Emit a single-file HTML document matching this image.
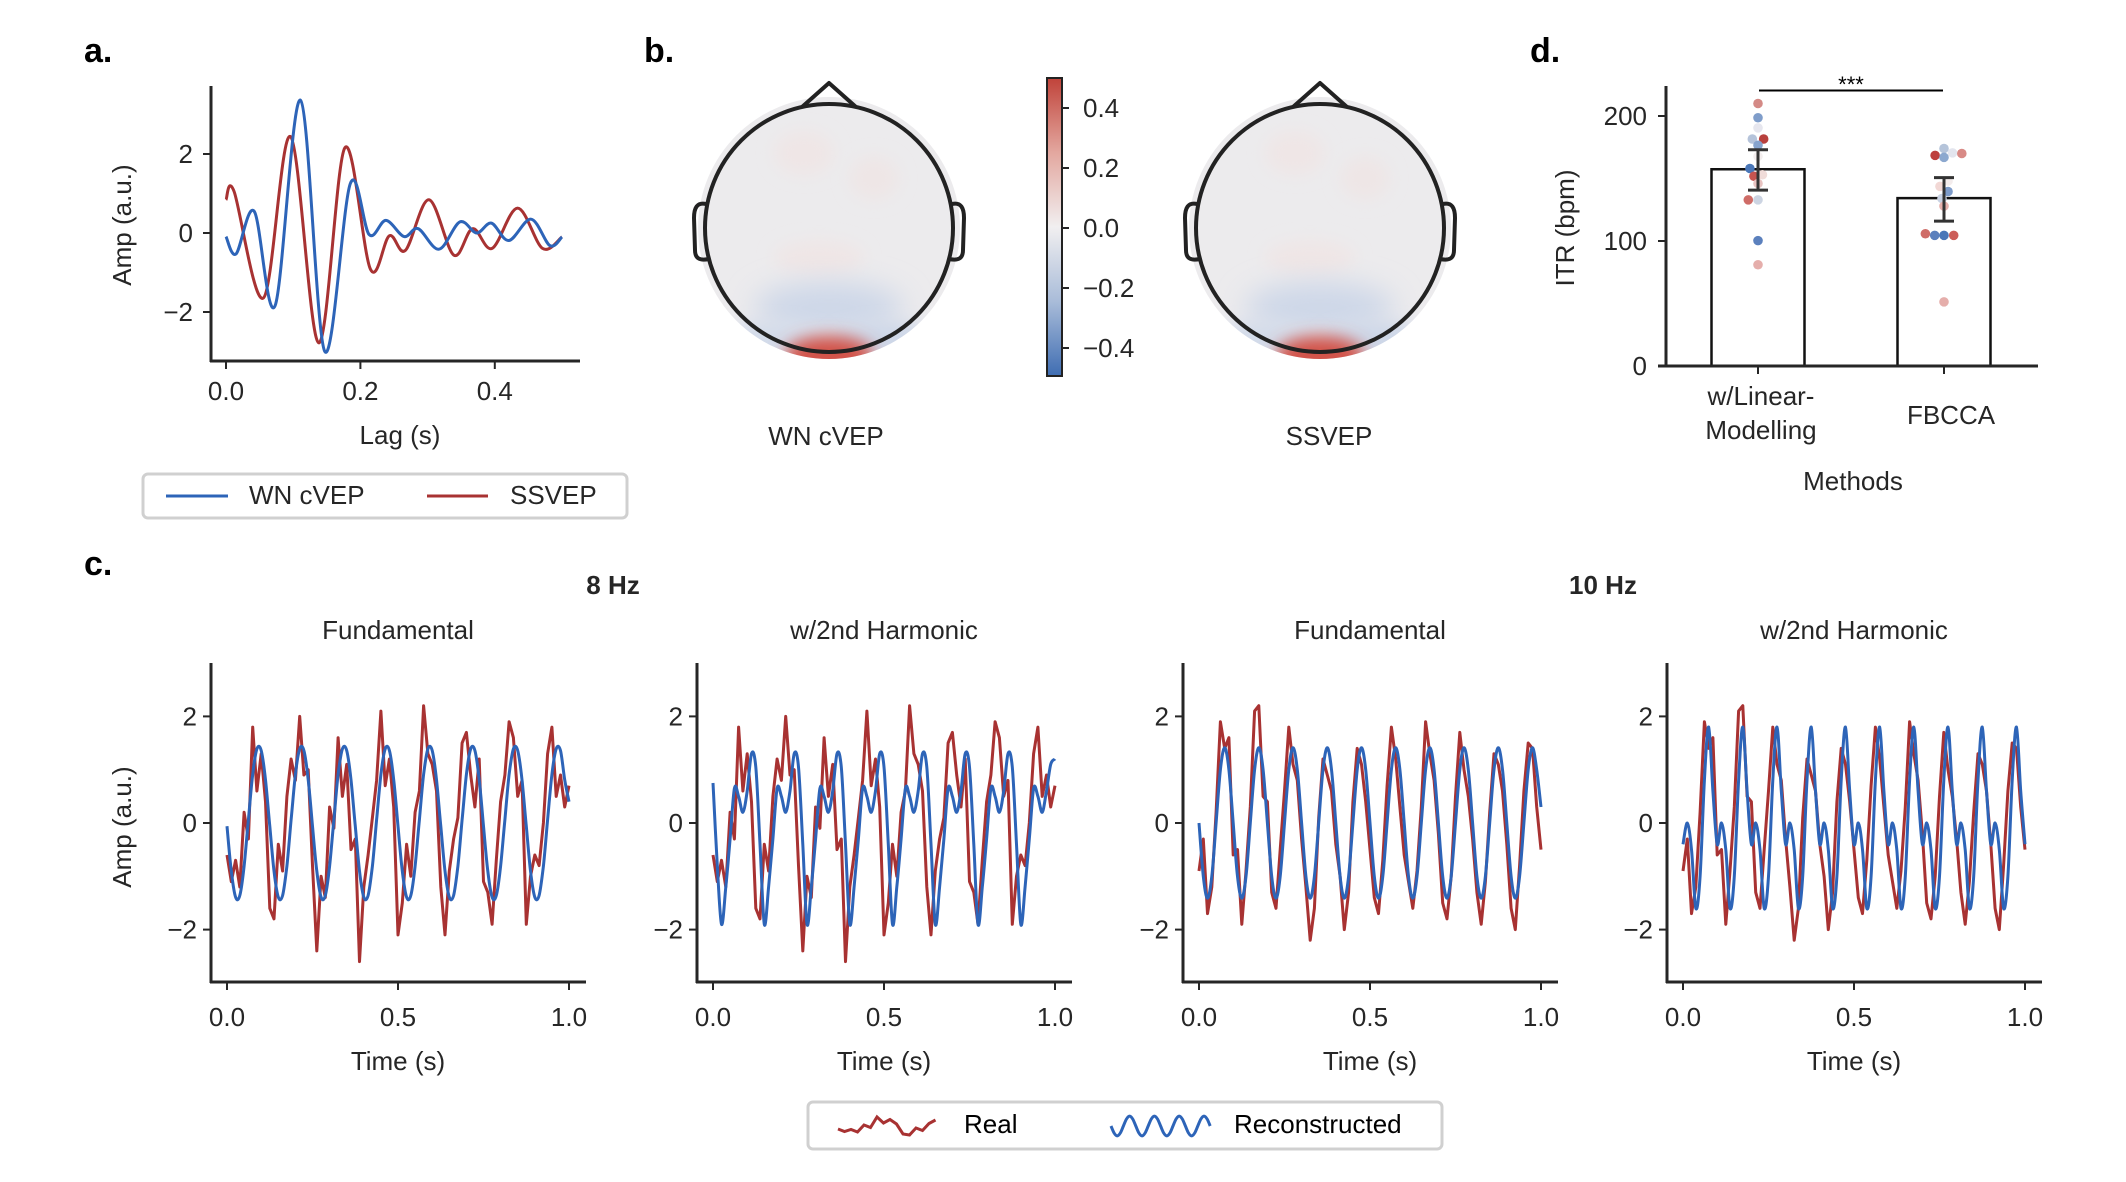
<!DOCTYPE html>
<html><head><meta charset="utf-8">
<style>
html,body{margin:0;padding:0;background:#fff;}
svg{display:block;font-family:"Liberation Sans",sans-serif;}
</style></head>
<body>
<svg id="fig" width="2126" height="1182" viewBox="0 0 2126 1182" xmlns="http://www.w3.org/2000/svg">
<defs>
  <filter id="blur1" x="-50%" y="-50%" width="200%" height="200%"><feGaussianBlur stdDeviation="14"/></filter>
  <filter id="blur2" x="-50%" y="-50%" width="200%" height="200%"><feGaussianBlur stdDeviation="8"/></filter>
  <clipPath id="fieldClip"><circle cx="0" cy="0" r="131"/></clipPath>
  <linearGradient id="cbGrad" x1="0" y1="0" x2="0" y2="1">
    <stop offset="0" stop-color="#c0433a"/>
    <stop offset="0.25" stop-color="#e3a79f"/>
    <stop offset="0.5" stop-color="#f1eff0"/>
    <stop offset="0.75" stop-color="#a9bcd9"/>
    <stop offset="1" stop-color="#3f6db2"/>
  </linearGradient>
  <g id="headmap">
    <circle cx="0" cy="0" r="131" fill="#ecebed"/>
    <g clip-path="url(#fieldClip)">
      <ellipse cx="-25" cy="-75" rx="30" ry="22" fill="#efe6e6" filter="url(#blur2)"/>
      <ellipse cx="45" cy="-50" rx="25" ry="22" fill="#eee6e6" filter="url(#blur2)"/>
      <ellipse cx="-10" cy="30" rx="45" ry="18" fill="#efe6e6" filter="url(#blur2)"/>
      <ellipse cx="0" cy="80" rx="75" ry="26" fill="#cdd7e8" filter="url(#blur1)"/>
      <ellipse cx="60" cy="115" rx="60" ry="20" fill="#cdd7e8" filter="url(#blur2)"/>
      <ellipse cx="-60" cy="115" rx="60" ry="20" fill="#d3dbea" filter="url(#blur2)"/>
      <ellipse cx="0" cy="128" rx="45" ry="20" fill="#d2534a" filter="url(#blur2)"/>
    </g>
    <circle cx="0" cy="0" r="124" fill="none" stroke="#222" stroke-width="4"/>
    <path d="M -27 -121 L 0 -145 L 27 -121" fill="none" stroke="#222" stroke-width="4" stroke-linejoin="round"/>
    <path d="M -123 -24 C -132 -26 -135 -20 -135 -10 L -134 22 C -134 30 -130 33 -120 31" fill="none" stroke="#222" stroke-width="4"/>
    <path d="M 123 -24 C 132 -26 135 -20 135 -10 L 134 22 C 134 30 130 33 120 31" fill="none" stroke="#222" stroke-width="4"/>
  </g>
</defs>

<text x="84" y="62" font-size="34" font-weight="bold" fill="#000">a.</text>
<text x="644" y="62" font-size="34" font-weight="bold" fill="#000">b.</text>
<text x="1530" y="62" font-size="34" font-weight="bold" fill="#000">d.</text>
<text x="84" y="575" font-size="34" font-weight="bold" fill="#000">c.</text>

<g id="panelA"></g>
<text x="400" y="444" font-size="26" text-anchor="middle" fill="#262626">Lag (s)</text>
<text transform="translate(131,225) rotate(-90)" font-size="26" text-anchor="middle" fill="#262626">Amp (a.u.)</text>
<g>
  <rect x="143" y="474" width="484" height="44" rx="5" fill="#fff" stroke="#d0d0d0" stroke-width="3"/>
  <line x1="166" y1="496" x2="228" y2="496" stroke="#2d64b8" stroke-width="3"/>
  <text x="249" y="504" font-size="26" fill="#262626">WN cVEP</text>
  <line x1="427" y1="496" x2="488" y2="496" stroke="#a83232" stroke-width="3"/>
  <text x="510" y="504" font-size="26" fill="#262626">SSVEP</text>
</g>

<g transform="translate(829,228)"><use href="#headmap"/></g>
<g transform="translate(1320,228)"><use href="#headmap"/></g>
<text x="826" y="445" font-size="26" text-anchor="middle" fill="#262626">WN cVEP</text>
<text x="1329" y="445" font-size="26" text-anchor="middle" fill="#262626">SSVEP</text>
<g>
  <rect x="1047" y="78" width="15" height="298" fill="url(#cbGrad)" stroke="#222" stroke-width="2"/>
  <g id="cbTicks"></g>
</g>

<g id="panelD"></g>
<text transform="translate(1574,228) rotate(-90)" font-size="26" text-anchor="middle" fill="#262626">ITR (bpm)</text>
<text x="1761" y="405" font-size="26" text-anchor="middle" fill="#262626">w/Linear-</text>
<text x="1761" y="439" font-size="26" text-anchor="middle" fill="#262626">Modelling</text>
<text x="1951" y="424" font-size="26" text-anchor="middle" fill="#262626">FBCCA</text>
<text x="1853" y="490" font-size="26" text-anchor="middle" fill="#262626">Methods</text>

<text x="613" y="594" font-size="26" font-weight="bold" text-anchor="middle" fill="#262626">8 Hz</text>
<text x="1603" y="594" font-size="26" font-weight="bold" text-anchor="middle" fill="#262626">10 Hz</text>
<g id="panelC"></g>
<text transform="translate(131,827) rotate(-90)" font-size="26" text-anchor="middle" fill="#262626">Amp (a.u.)</text>
<g transform="translate(-4,0)">
  <rect x="812" y="1102" width="634" height="47" rx="5" fill="#fff" stroke="#d0d0d0" stroke-width="3"/>
  <path id="legReal" d="" fill="none" stroke="#a83232" stroke-width="3"/>
  <text x="968" y="1133" font-size="26" fill="#000">Real</text>
  <path id="legRec" d="" fill="none" stroke="#2d64b8" stroke-width="3"/>
  <text x="1238" y="1133" font-size="26" fill="#000">Reconstructed</text>
</g>
</svg>

<script>
const lagWnT = [0,0.015,0.042,0.073,0.111,0.147,0.185,0.213,0.238,0.265,0.286,0.317,0.348,0.373,0.395,0.421,0.454,0.482,0.5];
const lagWnV = [-0.09,-0.53,0.55,-1.84,3.36,-3.0,1.25,-0.04,0.32,-0.09,0.11,-0.41,0.28,0.0,0.25,-0.19,0.35,-0.32,-0.1];
const lagSsT = [0,0.012,0.056,0.096,0.138,0.177,0.215,0.243,0.267,0.302,0.339,0.367,0.396,0.434,0.471,0.5];
const lagSsV = [0.84,1.05,-1.64,2.44,-2.78,2.16,-0.92,-0.07,-0.44,0.84,-0.56,0.11,-0.39,0.63,-0.39,-0.1];
const lagTicks = [0.0,0.2,0.4];
const ampTicksA = [-2,0,2];

const cbTickVals = [0.4,0.2,0.0,-0.2,-0.4];

const recon8Fund = [-0.06,-0.9,-1.39,-1.36,-0.81,0.06,0.91,1.39,1.36,0.81,
 -0.06,-0.9,-1.39,-1.36,-0.81,0.06,0.91,1.39,1.36,0.81,
 -0.06,-0.9,-1.39,-1.36,-0.81,0.06,0.91,1.39,1.36,0.81,
 -0.06,-0.9,-1.39,-1.36,-0.81,0.06,0.91,1.39,1.36,0.81,
 -0.06,-0.9,-1.39,-1.36,-0.81,0.06,0.91,1.39,1.36,0.81,
 -0.06,-0.9,-1.39,-1.36,-0.81,0.06,0.91,1.39,1.36,0.81,
 -0.06,-0.9,-1.39,-1.36,-0.81,0.06,0.91,1.39,1.36,0.81,
 -0.06,-0.9,-1.39,-1.36,-0.81,0.06,0.91,1.39,1.36,0.81,0.4];
const recon8Harm = [0.75,-0.8,
 -1.9,-1.2,-0.3,0.65,0.5,0.2,0.6,1.3,1.05,-0.4,
 -1.9,-1.2,-0.3,0.65,0.5,0.2,0.6,1.3,1.05,-0.4,
 -1.9,-1.2,-0.3,0.65,0.5,0.2,0.6,1.3,1.05,-0.4,
 -1.9,-1.2,-0.3,0.65,0.5,0.2,0.6,1.3,1.05,-0.4,
 -1.9,-1.2,-0.3,0.65,0.5,0.2,0.6,1.3,1.05,-0.4,
 -1.9,-1.2,-0.3,0.65,0.5,0.2,0.6,1.3,1.05,-0.4,
 -1.9,-1.2,-0.3,0.65,0.5,0.2,0.6,1.3,1.05,-0.4,
 -1.9,-1.2,-0.3,0.65,0.5,0.2,0.6,1.1,1.2];
const recon10Fund = [0,-1.0,-1.41,-1.0,0,1.0,1.41,1.0,
 0,-1.0,-1.41,-1.0,0,1.0,1.41,1.0,
 0,-1.0,-1.41,-1.0,0,1.0,1.41,1.0,
 0,-1.0,-1.41,-1.0,0,1.0,1.41,1.0,
 0,-1.0,-1.41,-1.0,0,1.0,1.41,1.0,
 0,-1.0,-1.41,-1.0,0,1.0,1.41,1.0,
 0,-1.0,-1.41,-1.0,0,1.0,1.41,1.0,
 0,-1.0,-1.41,-1.0,0,1.0,1.41,1.0,
 0,-1.0,-1.41,-1.0,0,1.0,1.41,1.0,
 0,-1.0,-1.41,-1.0,0,1.0,1.41,1.0,0.3];
const recon10Harm = [-0.4,0.0,-0.5,-1.6,-1.0,0.8,1.8,0.6,
 -0.4,0.0,-0.5,-1.6,-1.0,0.8,1.8,0.6,
 -0.4,0.0,-0.5,-1.6,-1.0,0.8,1.8,0.6,
 -0.4,0.0,-0.5,-1.6,-1.0,0.8,1.8,0.6,
 -0.4,0.0,-0.5,-1.6,-1.0,0.8,1.8,0.6,
 -0.4,0.0,-0.5,-1.6,-1.0,0.8,1.8,0.6,
 -0.4,0.0,-0.5,-1.6,-1.0,0.8,1.8,0.6,
 -0.4,0.0,-0.5,-1.6,-1.0,0.8,1.8,0.6,
 -0.4,0.0,-0.5,-1.6,-1.0,0.8,1.8,0.6,
 -0.4,0.0,-0.5,-1.6,-1.0,0.8,1.8,0.6,-0.4];
const real8 = [-0.6,-1.1,-0.7,-1.2,0.2,-0.3,1.8,0.6,1.3,0.4,
 -1.6,-1.8,-0.4,-0.9,0.5,1.2,0.8,2.0,0.9,1.0,
 -0.8,-2.4,-1.0,-1.4,0.3,-0.1,1.6,0.5,1.1,-0.5,
 -0.3,-2.6,-1.2,-0.6,0.1,0.8,2.1,0.7,1.2,0.3,
 -2.1,-1.5,-0.4,-1.0,0.2,0.6,2.2,1.3,1.1,0.6,
 -1.2,-2.1,-0.9,-0.3,0.1,1.5,1.7,0.9,0.3,1.2,
 -1.1,-1.3,-1.9,-0.7,0.4,0.9,1.9,1.6,0.5,0.8,
 -1.9,-1.0,-0.6,-0.8,0.0,1.3,1.8,0.5,0.9,0.3,0.7];
const real10 = [-0.9,-0.3,-1.7,-1.2,0.2,1.9,1.4,1.6,
 -0.6,-0.5,-1.9,-0.9,0.3,2.1,2.2,0.5,
 0.4,-1.3,-1.6,-0.5,0.6,1.8,1.1,0.8,
 -0.3,-1.2,-2.2,-1.6,0.1,1.2,0.9,0.6,
 -0.4,-1.0,-2.0,-1.3,0.4,1.4,1.1,0.4,
 -0.5,-1.4,-1.7,-0.7,0.7,1.8,1.2,0.3,
 -0.6,-1.1,-1.6,-0.9,0.3,1.9,1.3,0.8,
 -0.2,-1.5,-1.8,-1.0,0.5,1.7,1.0,0.5,
 -0.3,-1.3,-1.9,-1.1,0.2,1.3,1.1,0.6,
 -0.4,-1.6,-2.0,-0.8,0.6,1.5,1.4,0.3,-0.5];
const subplotTitles = ["Fundamental","w/2nd Harmonic","Fundamental","w/2nd Harmonic"];
const timeTicks = [0.0,0.5,1.0];
const timeTickLabels = ["0.0","0.5","1.0"];
const ampTicksC = [-2,0,2];

const methods = ["w/Linear-Modelling","FBCCA"];
const itrMeans = [157.4,134.3];
const itrErrLow = [140.7,115.9];
const itrErrHigh = [173,150.7];
const itrPoints1 = [210,198.6,190.5,181.6,181.6,176.6,167.7,158,153,151.8,146,132.9,132.9,100.3,81];
const itrPoints2 = [174,170.5,168.5,166.9,170,148,143.7,139.6,134,127.9,105.8,104.5,104.5,104.5,51.3];
const itrJitter1 = [0,0,0,-0.14,0.14,0,0,-0.2,0.11,-0.1,0,-0.24,0,0,0];
const itrJitter2 = [0,0.21,-0.22,0,0.44,0.1,-0.1,0.1,-0.05,0,-0.46,-0.23,0,0.24,0];
const itrColors1 = ["#d48a86","#7f9dca","#e6e6ee","#b5c3da","#b8403d","#86a3cd","#f3eeee","#4a77b8","#f0dcd9","#c55450","#e8c3c1","#cf6c67","#ccd4e2","#5b80bd","#e5aeab"];
const itrColors2 = ["#b5c4da","#e3e5ee","#bd3f3d","#8ca8cf","#d88a86","#f3ecec","#f2d8d5","#7d9bc9","#c9d2e3","#e6b0ac","#cf6c67","#5b80bd","#4a77b8","#cc5e59","#e5aeab"];
const itrTicks = [0,100,200];

const NS = "http://www.w3.org/2000/svg";
function mk(tag, attrs, parent){
  const el = document.createElementNS(NS, tag);
  for (const k in attrs) el.setAttribute(k, attrs[k]);
  parent.appendChild(el);
  return el;
}
function smoothPath(pts){
  let d = "M" + pts[0][0].toFixed(1) + " " + pts[0][1].toFixed(1);
  for (let i = 0; i < pts.length - 1; i++){
    const p0 = pts[Math.max(0,i-1)], p1 = pts[i], p2 = pts[i+1], p3 = pts[Math.min(pts.length-1,i+2)];
    const c1x = p1[0] + (p2[0]-p0[0])/6, c1y = p1[1] + (p2[1]-p0[1])/6;
    const c2x = p2[0] - (p3[0]-p1[0])/6, c2y = p2[1] - (p3[1]-p1[1])/6;
    d += " C" + c1x.toFixed(1)+" "+c1y.toFixed(1)+" "+c2x.toFixed(1)+" "+c2y.toFixed(1)+" "+p2[0].toFixed(1)+" "+p2[1].toFixed(1);
  }
  return d;
}
function linePath(pts){
  return pts.map((p,i)=>(i?"L":"M")+p[0].toFixed(1)+" "+p[1].toFixed(1)).join(" ");
}
const AX = "#262626";

(function(){
  const g = document.getElementById("panelA");
  const xA = t => 226 + t*672;
  const yA = v => 233 - v*39.5;
  let el;
  el = mk("line",{x1:211,y1:86,x2:211,y2:362,stroke:AX,"stroke-width":3},g);
  
  
  el = mk("line",{x1:210,y1:361,x2:580,y2:361,stroke:AX,"stroke-width":3},g);
  
  
  lagTicks.forEach(t=>{
    mk("line",{x1:xA(t),y1:361,x2:xA(t),y2:369,stroke:AX,"stroke-width":2},g);
    el = mk("text",{x:xA(t),y:400,"font-size":26,"text-anchor":"middle",fill:AX},g);
    el.textContent = t.toFixed(1);
    
    
  });
  ampTicksA.forEach(v=>{
    mk("line",{x1:203,y1:yA(v),x2:211,y2:yA(v),stroke:AX,"stroke-width":2},g);
    el = mk("text",{x:193,y:yA(v)+9,"font-size":26,"text-anchor":"end",fill:AX},g);
    el.textContent = v<0 ? "\u2212"+Math.abs(v) : String(v);
    
    
  });
  el = mk("path",{d:smoothPath(lagSsT.map((t,i)=>[xA(t),yA(lagSsV[i])])),fill:"none",stroke:"#a83232","stroke-width":3},g);
  
  
  el = mk("path",{d:smoothPath(lagWnT.map((t,i)=>[xA(t),yA(lagWnV[i])])),fill:"none",stroke:"#2d64b8","stroke-width":3},g);
  
  
})();

(function(){
  const g = document.getElementById("cbTicks");
  const yC = v => 228 - v*300;
  cbTickVals.forEach(v=>{
    mk("line",{x1:1062,y1:yC(v),x2:1069,y2:yC(v),stroke:AX,"stroke-width":2},g);
    const el = mk("text",{x:1083,y:yC(v)+9,"font-size":26,fill:AX},g);
    el.textContent = (v<0?"\u2212":"") + Math.abs(v).toFixed(1);
    
    
  });
})();

(function(){
  const g = document.getElementById("panelC");
  const origins = [227,713,1199,1683];
  const recon = [recon8Fund, recon8Harm, recon10Fund, recon10Harm];
  const real = [real8, real8, real10, real10];
  const yC = v => 823 - v*53.3;
  origins.forEach((x0,si)=>{
    const xC = t => x0 + t*342;
    const sg = mk("g",{},g);
    
    
    let el;
    el = mk("line",{x1:x0-16,y1:663,x2:x0-16,y2:983,stroke:AX,"stroke-width":3},sg);
    
    
    el = mk("line",{x1:x0-17,y1:982,x2:x0+359,y2:982,stroke:AX,"stroke-width":3},sg);
    
    
    timeTicks.forEach((t,i)=>{
      mk("line",{x1:xC(t),y1:982,x2:xC(t),y2:990,stroke:AX,"stroke-width":2},sg);
      el = mk("text",{x:xC(t),y:1026,"font-size":26,"text-anchor":"middle",fill:AX},sg);
      el.textContent = timeTickLabels[i];
      
      
    });
    ampTicksC.forEach(v=>{
      mk("line",{x1:x0-24,y1:yC(v),x2:x0-16,y2:yC(v),stroke:AX,"stroke-width":2},sg);
      el = mk("text",{x:x0-30,y:yC(v)+9,"font-size":26,"text-anchor":"end",fill:AX},sg);
      el.textContent = v<0 ? "\u2212"+Math.abs(v) : String(v);
      
      
    });
    el = mk("text",{x:xC(0.5),y:1070,"font-size":26,"text-anchor":"middle",fill:AX},sg);
    el.textContent = "Time (s)";
    
    
    el = mk("text",{x:xC(0.5),y:639,"font-size":26,"text-anchor":"middle",fill:AX},sg);
    el.textContent = subplotTitles[si];
    
    
    const rs = real[si], bs = recon[si];
    el = mk("path",{d:linePath(rs.map((v,i)=>[xC(i/(rs.length-1)),yC(v)])),fill:"none",stroke:"#a83232","stroke-width":3,"stroke-linejoin":"round"},sg);
    
    
    el = mk("path",{d:smoothPath(bs.map((v,i)=>[xC(i/(bs.length-1)),yC(v)])),fill:"none",stroke:"#2d64b8","stroke-width":3},sg);
    
    
  });
  const lr = real8.slice(0,16);
  document.getElementById("legReal").setAttribute("d", linePath(lr.map((v,i)=>[842+i*6.5,1126-v*5])));
  const lb = recon10Fund.slice(0,33);
  document.getElementById("legRec").setAttribute("d", smoothPath(lb.map((v,i)=>[1115+i*3.1,1126-v*7])));
})();

(function(){
  const g = document.getElementById("panelD");
  g.setAttribute("transform","translate(-5,0)");
  const centers = [1763,1949];
  const yD = v => 366 - v*1.25;
  const bw = 93;
  let el;
  itrTicks.forEach(v=>{
    mk("line",{x1:1663,y1:yD(v),x2:1671,y2:yD(v),stroke:AX,"stroke-width":2},g);
    el = mk("text",{x:1652,y:yD(v)+9,"font-size":26,"text-anchor":"end",fill:AX},g);
    el.textContent = String(v);
    
    
  });
  methods.forEach((m,i)=>{
    el = mk("rect",{x:centers[i]-bw/2,y:yD(itrMeans[i]),width:bw,height:yD(0)-yD(itrMeans[i]),fill:"#fff",stroke:"#111","stroke-width":2.5},g);
    
    
    mk("line",{x1:centers[i],y1:366,x2:centers[i],y2:374,stroke:AX,"stroke-width":2},g);
  });
  [[itrPoints1,itrJitter1,itrColors1],[itrPoints2,itrJitter2,itrColors2]].forEach((set,ci)=>{
    set[0].forEach((v,j)=>{
      el = mk("circle",{cx:centers[ci]+set[1][j]*bw/2*0.87,cy:yD(v),r:4.8,fill:set[2][j]},g);
      
      
    });
  });
  methods.forEach((m,i)=>{
    el = mk("g",{},g);
    
    
    mk("line",{x1:centers[i],y1:yD(itrErrLow[i]),x2:centers[i],y2:yD(itrErrHigh[i]),stroke:"#333","stroke-width":3},el);
    mk("line",{x1:centers[i]-10,y1:yD(itrErrLow[i]),x2:centers[i]+10,y2:yD(itrErrLow[i]),stroke:"#333","stroke-width":3},el);
    mk("line",{x1:centers[i]-10,y1:yD(itrErrHigh[i]),x2:centers[i]+10,y2:yD(itrErrHigh[i]),stroke:"#333","stroke-width":3},el);
  });
  el = mk("line",{x1:1671,y1:86,x2:1671,y2:367,stroke:AX,"stroke-width":3},g);
  
  
  el = mk("line",{x1:1663,y1:366,x2:2043,y2:366,stroke:AX,"stroke-width":3},g);
  
  
  el = mk("line",{x1:centers[0]+1,y1:90.5,x2:centers[1]-1,y2:90.5,stroke:"#000","stroke-width":2},g);
  
  
  el = mk("text",{x:(centers[0]+centers[1])/2,y:92,"font-size":22,"text-anchor":"middle",fill:"#000"},g);
  el.textContent = "***";
  
  
})();
</script>
</body></html>
